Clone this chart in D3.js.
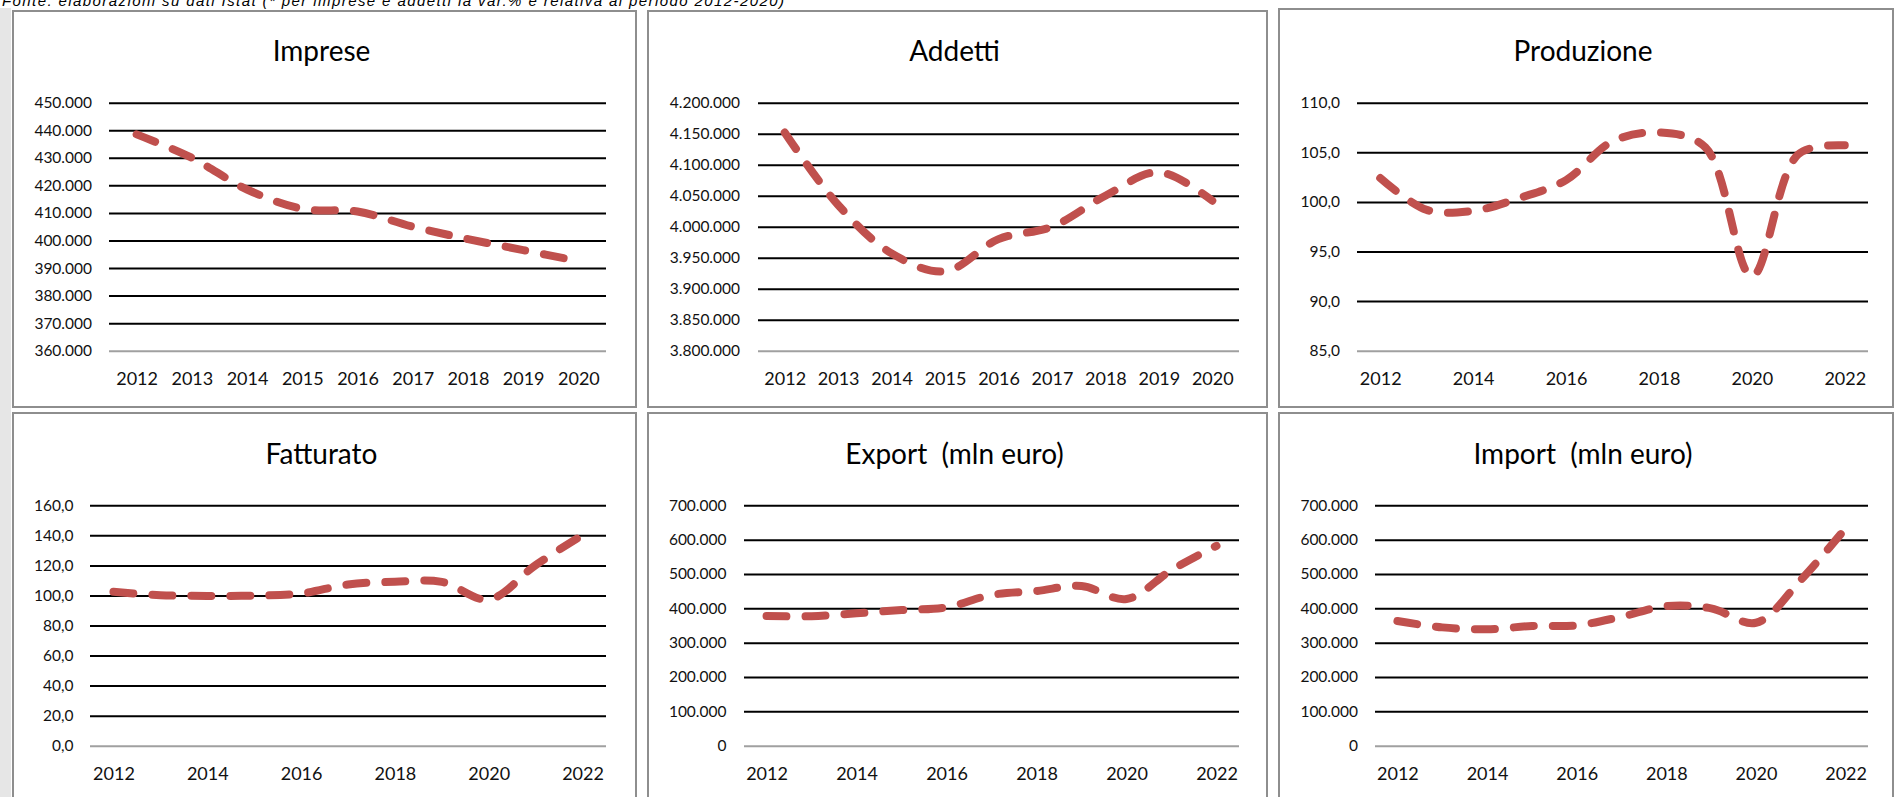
<!DOCTYPE html>
<html>
<head>
<meta charset="utf-8">
<script src="https://cdn.jsdelivr.net/npm/d3@7"></script>
<style>
  body { margin: 0; background: #fff; }
  svg { display: block; font-family: Lato, "Open Sans", sans-serif; }
</style>
</head>
<body>
<svg id="chart" width="1896" height="797"></svg>
<script>
// anni
const years9 = ['2012', '2013', '2014', '2015', '2016', '2017', '2018', '2019', '2020'];
const years11 = ['2012', '2013', '2014', '2015', '2016', '2017', '2018', '2019', '2020', '2021', '2022'];
const yearLabels11 = ['2012', '2014', '2016', '2018', '2020', '2022'];

// serie
const imprese = [438500, 430000, 418500, 411500, 410500, 405000, 400500, 396500, 392500];
const addetti = [4152000, 4035000, 3957000, 3928000, 3980000, 4000000, 4050000, 4088000, 4042000];
const produzione = [102.4, 99.2, 99.1, 100.4, 102.2, 106.1, 107.0, 105.5, 92.5, 104.8, 105.7];
const fatturato = [102.4, 100.2, 99.7, 99.9, 101.3, 107.3, 109.1, 109.0, 97.3, 120.2, 140.2];
const exportVals = [377500, 377000, 385500, 395000, 403000, 439000, 450500, 465000, 427000, 511500, 582000];
const importVals = [363000, 344500, 339000, 348500, 350500, 375500, 406500, 400000, 358000, 482500, 633000];

// tacche asse y
const impreseTicks = [360000, 370000, 380000, 390000, 400000, 410000, 420000, 430000, 440000, 450000];
const addettiTicks = [3800000, 3850000, 3900000, 3950000, 4000000, 4050000, 4100000, 4150000, 4200000];
const produzioneTicks = [85, 90, 95, 100, 105, 110];
const fatturatoTicks = [0, 20, 40, 60, 80, 100, 120, 140, 160];
const euroTicks = [0, 100000, 200000, 300000, 400000, 500000, 600000, 700000];

const caption = 'Fonte: elaborazioni su dati Istat (* per imprese e addetti la var.% è relativa al periodo 2012-2020)';

const it = d3.formatLocale({ decimal: ',', thousands: '.', grouping: [3], currency: ['', ' €'] });
const fInt = it.format(',.0f');
const fDec = it.format(',.1f');

const rows = [
  { top: 102.7, bottom: 350.7, titleY: 61 },
  { top: 505.3, bottom: 745.7, titleY: 464 }
];

const panels = [
  { title: 'Imprese', years: years9, labels: years9, values: imprese, ticks: impreseTicks, fmt: fInt,
    box: [13, 11, 636, 407], grid: [109, 606], labelRight: 92, row: 0 },
  { title: 'Addetti', years: years9, labels: years9, values: addetti, ticks: addettiTicks, fmt: fInt,
    box: [648, 11, 1267, 407], grid: [758, 1239], labelRight: 740, row: 0 },
  { title: 'Produzione', years: years11, labels: yearLabels11, values: produzione, ticks: produzioneTicks, fmt: fDec,
    box: [1279, 9, 1893, 407], grid: [1357, 1868], labelRight: 1340, row: 0 },
  { title: 'Fatturato', years: years11, labels: yearLabels11, values: fatturato, ticks: fatturatoTicks, fmt: fDec,
    box: [13, 413, 636, 830], grid: [90, 606], labelRight: 73.5, row: 1 },
  { title: 'Export  (mln euro)', years: years11, labels: yearLabels11, values: exportVals, ticks: euroTicks, fmt: fInt,
    box: [648, 413, 1267, 830], grid: [744, 1239], labelRight: 726.5, row: 1 },
  { title: 'Import  (mln euro)', years: years11, labels: yearLabels11, values: importVals, ticks: euroTicks, fmt: fInt,
    box: [1279, 413, 1893, 830], grid: [1375, 1868], labelRight: 1358, row: 1 }
];

const svg = d3.select('#chart');

// fascia grigia a sinistra
svg.append('rect')
  .attr('x', 0).attr('y', 8).attr('width', 11).attr('height', 797)
  .attr('fill', '#e6e6e6');

// didascalia (in parte tagliata in alto, come nell'originale)
svg.append('text')
  .attr('x', 2).attr('y', 6)
  .attr('font-family', '"Liberation Sans", Arial, sans-serif')
  .attr('font-style', 'italic')
  .attr('font-size', 15)
  .attr('textLength', 782)
  .attr('lengthAdjust', 'spacing')
  .text(caption);

panels.forEach(p => {
  const row = rows[p.row];
  const [bx0, by0, bx1, by1] = p.box;
  const g = svg.append('g');

  g.append('rect')
    .attr('x', bx0).attr('y', by0)
    .attr('width', bx1 - bx0).attr('height', by1 - by0)
    .attr('fill', '#fff')
    .attr('stroke', '#8e8e8e')
    .attr('stroke-width', 2);

  g.append('text')
    .attr('x', (bx0 + bx1) / 2 - 3)
    .attr('y', row.titleY)
    .attr('text-anchor', 'middle')
    .attr('font-size', 28)
    .attr('fill', '#000')
    .style('white-space', 'pre')
    .text(p.title);

  const x = d3.scalePoint()
    .domain(p.years)
    .range(p.grid)
    .padding(0.5);

  const y = d3.scaleLinear()
    .domain(d3.extent(p.ticks))
    .range([row.bottom, row.top]);

  const yAxis = g.append('g')
    .attr('transform', `translate(${p.grid[0]},0)`)
    .call(d3.axisLeft(y)
      .tickValues(p.ticks)
      .tickSize(-(p.grid[1] - p.grid[0]))
      .tickPadding(p.grid[0] - p.labelRight)
      .tickFormat(p.fmt));
  yAxis.select('.domain').remove();
  yAxis.selectAll('.tick line')
    .attr('stroke', d => d === p.ticks[0] ? '#a0a0a0' : '#000')
    .attr('stroke-width', 2);
  yAxis.selectAll('.tick text')
    .attr('font-family', 'Lato, sans-serif')
    .attr('font-size', 15.5)
    .attr('fill', '#111');

  const xAxis = g.append('g')
    .attr('transform', `translate(0,${row.bottom})`)
    .call(d3.axisBottom(x)
      .tickValues(p.labels)
      .tickSize(0)
      .tickPadding(22));
  xAxis.select('.domain').remove();
  xAxis.selectAll('.tick text')
    .attr('font-family', 'Lato, sans-serif')
    .attr('font-size', 18)
    .attr('fill', '#111');

  const line = d3.line()
    .x((d, i) => x(p.years[i]))
    .y(d => y(d))
    .curve(d3.curveCatmullRom.alpha(0.5));

  g.append('path')
    .attr('d', line(p.values))
    .attr('fill', 'none')
    .attr('stroke', '#c0504d')
    .attr('stroke-width', 8)
    .attr('stroke-linecap', 'round')
    .attr('stroke-dasharray', '20 19');
});
</script>
</body>
</html>
